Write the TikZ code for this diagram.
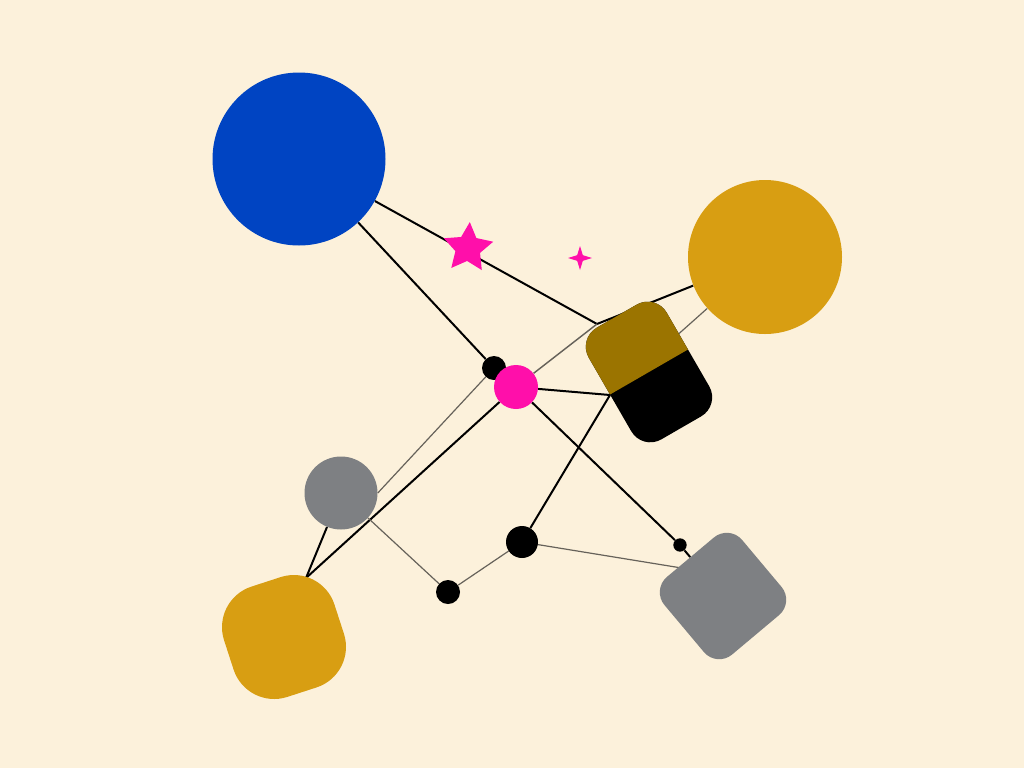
\documentclass[tikz,border=0pt]{standalone}
\usetikzlibrary{shapes.geometric,backgrounds}

\definecolor{cream}{HTML}{FCF1DB}
\definecolor{royal}{HTML}{0044C2}
\definecolor{mustard}{HTML}{D89E12}
\definecolor{olivebrown}{HTML}{9B7400}
\definecolor{hotpink}{HTML}{FF0FAA}
\definecolor{slate}{HTML}{7E8083}
\definecolor{linkgray}{HTML}{66625A}

\begin{document}
\begin{tikzpicture}[x=0.75pt,y=-0.75pt,
    ball/.style={circle,inner sep=0pt,minimum size=#1},
    pin/.style={circle,fill=black,inner sep=0pt,minimum size=#1},
    tile/.style={rectangle,inner sep=0pt,minimum size=#1},
    wire/.style={line width=1.5pt,black},
    faint/.style={line width=0.9pt,linkgray}]

    \useasboundingbox (0,0) rectangle (1024,768);
    \begin{scope}[on background layer]
        \fill[cream] (0,0) rectangle (1024,768);
    \end{scope}

    % round shapes
    \node[ball=129.75pt,fill=royal] (blue) at (299,159) {};
    \node[ball=115.5pt,fill=mustard] (gold) at (765,257) {};
    \node[ball=54.75pt,fill=slate] (grey) at (341,493) {};
    \node[pin=18pt] (dotA) at (494,368) {};
    \node[ball=33pt,fill=hotpink] (hub) at (516,387) {};
    \node[pin=24pt] (dotC) at (522,542) {};
    \node[pin=18pt] (dotB) at (448,592) {};
    \node[pin=10pt] (dotD) at (680,545) {};

    % tiles
    \node[tile=0pt,minimum width=67.5pt,minimum height=96.75pt,
        rounded corners=16.5pt,rotate=30,fill=black] (pill) at (649,372) {};
    \begin{scope}[shift={(pill.center)},rotate=30]
        \clip[rounded corners=16.5pt] (-33.75pt,-48.375pt) rectangle (33.75pt,48.375pt);
        \fill[olivebrown] (-35pt,0pt) rectangle (35pt,50pt);
    \end{scope}
    \node[tile=87pt,rounded corners=32pt,rotate=18,fill=mustard] (gsq) at (284,637) {};
    \node[tile=76pt,rounded corners=15pt,rotate=40,fill=slate] (rsq) at (723,596) {};

    % stars
    \node[star,star points=5,star point ratio=2,inner sep=0pt,rotate=-4,
        minimum size=39pt,fill=hotpink] (star) at (468,248) {};
    \node[star,star points=4,star point ratio=3,inner sep=0pt,
        minimum size=18pt,fill=hotpink] (spark) at (580,258) {};

    % end points under the shapes
    \coordinate (knot) at (597,324);
    \coordinate (pillW) at (610,395);
    \coordinate (gsqN) at (306,578);
    \coordinate (rsqW) at (700,571);

    \begin{scope}[on background layer]
        \draw[wire] (blue) -- (knot);
        \draw[wire] (blue) -- (dotA);
        \draw[wire] (gold) -- (knot);
        \draw[faint] (gold) -- (pillW);
        \draw[faint,line width=1.1pt] (hub) -- (knot);
        \draw[wire] (hub) -- (pillW);
        \draw[wire] (pillW) -- (dotC);
        \draw[wire] (hub) -- (dotD) -- (rsq);
        \draw[faint] (dotA) -- (grey.east);
        \draw[wire] (hub) -- (gsqN);
        \draw[wire] (grey) -- (gsqN);
        \draw[faint] (grey) -- (dotB);
        \draw[faint] (dotB) -- (dotC);
        \draw[faint] (dotC) -- (rsqW);
    \end{scope}
\end{tikzpicture}
\end{document}
